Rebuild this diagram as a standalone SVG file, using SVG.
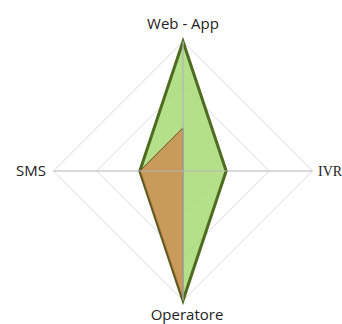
<svg xmlns="http://www.w3.org/2000/svg" width="342" height="324" viewBox="0 0 342 324">
<style>
.grid{fill:none;stroke:#dcdcdc;stroke-width:1}
.axis{stroke:#b4b4b4;stroke-width:1.2}
.lbl{font-family:"Open Sans","Noto Sans",sans-serif;font-size:15px;fill:#222}
.serif{font-family:"Liberation Serif","DejaVu Serif",serif;font-size:14px}
</style>
<rect width="342" height="324" fill="#fff"/>
<g id="grid">
<polygon class="grid" points="183,41.5 312.5,171 183,300.5 53.5,171"/>
<polygon class="grid" points="183,84.7 269.3,171 183,257.3 96.7,171"/>
<polygon class="grid" points="183,127.8 226.2,171 183,214.2 139.8,171"/>
</g>
<g id="series-green">
<polygon points="183,41.5 226.2,171 183,300.5 139.8,171" fill="#a2d86d" fill-opacity="0.8" stroke="#4d6b22" stroke-width="3" stroke-linejoin="miter"/>
</g>
<g id="series-orange">
<polygon points="183,127.8 183,171 183,300.5 139.8,171" fill="#cd8e52" fill-opacity="0.85" stroke="#6b4a1e" stroke-width="1"/>
</g>
<g id="axes">
<line class="axis" x1="183" y1="171" x2="183" y2="41.5"/>
<line class="axis" x1="183" y1="171" x2="312.5" y2="171"/>
<line class="axis" x1="183" y1="171" x2="183" y2="300.5"/>
<line class="axis" x1="183" y1="171" x2="53.5" y2="171"/>
</g>
<g id="labels">
<text class="lbl" x="183" y="29" text-anchor="middle">Web - App</text>
<text class="lbl serif" x="318" y="175.5">IVR</text>
<text class="lbl" x="187" y="320" text-anchor="middle">Operatore</text>
<text class="lbl" x="46" y="175.5" text-anchor="end">SMS</text>
</g>
</svg>
